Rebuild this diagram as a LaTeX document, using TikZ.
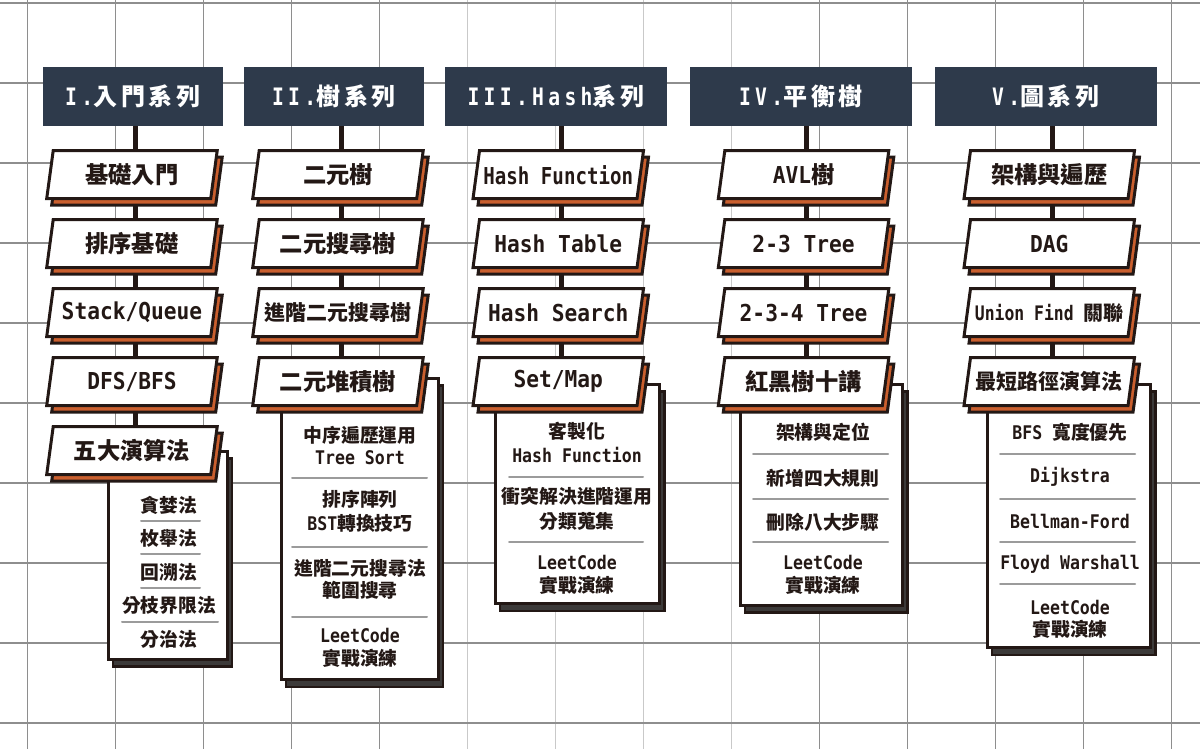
\documentclass[tikz,border=0pt]{standalone}
\usepackage{fontspec}
\setmainfont{DejaVu Sans}
\newfontfamily\cjkf{Noto Sans CJK TC}
\newfontfamily\latc{DejaVu Sans Mono}[FakeStretch=0.91]
\newfontfamily\latn{DejaVu Sans Mono}[FakeStretch=0.82]
\newfontfamily\latp{DejaVu Sans Mono}[FakeStretch=0.88]
\newfontfamily\hcjk{Noto Sans CJK TC}[LetterSpace=16]
\newfontfamily\hlat{DejaVu Sans Mono}[FakeStretch=0.82,LetterSpace=18]
\newcommand\C[1]{{\cjkf #1}}
\definecolor{ink}{HTML}{231815}
\definecolor{navy}{HTML}{2E3A4B}
\definecolor{corange}{HTML}{CA5F2E}
\definecolor{pgray}{HTML}{3C3A39}
\definecolor{gridd}{HTML}{8E8E8E}
\definecolor{gridl}{HTML}{C9C9C9}
\definecolor{sepgray}{HTML}{9B9B9B}
\tikzset{
 conn/.style={draw=ink, line width=5pt},
 cardshadow/.style={fill=corange, draw=ink, line width=3pt},
 cardbody/.style={fill=white, draw=ink, line width=3pt},
 cardtext/.style={text=ink, inner sep=0pt},
 header/.style={fill=navy, text=white, inner sep=0pt, minimum height=59pt, font=\fontsize{24}{24}\selectfont\bfseries},
 pshadow/.style={fill=pgray, draw=ink, line width=2.5pt},
 pbody/.style={fill=white, draw=ink, line width=3pt},
 ptext/.style={text=ink, inner sep=0pt, font=\fontsize{18.8}{20}\selectfont\latp\bfseries},
 sepline/.style={draw=sepgray, line width=2pt, line cap=round},
}
% #1 name, #2 bottom-left x, #3 top y, #4 font size, #5 text
\newcommand\card[5]{%
  \path[cardshadow] ({#2+11.5},{#3+6.5}) -- ++(164,0) -- ++(-6.5,48) -- ++(-164,0) -- cycle;
  \path[cardbody] ({#2+6.5},{#3}) -- ++(164,0) -- ++(-6.5,48) -- ++(-164,0) -- cycle;
  \node[cardtext, font={\fontsize{#4}{#4}\selectfont\latc\bfseries}] (#1) at ({#2+85.25},{#3+24}) {#5};
  \coordinate (#1t) at ({#2+88.5},{#3});
}
% #1 x1 #2 y1 #3 x2 #4 y2
\newcommand\panel[4]{%
  \path[pshadow] ({#1+5},{#2+7.5}) rectangle ({#3+5},{#4+7.5});
  \path[pbody] (#1,#2) rectangle (#3,#4);
}
\begin{document}
\begin{tikzpicture}[x=1pt,y=-1pt]
\useasboundingbox (0,0) rectangle (1200,749);
\fill[white] (0,0) rectangle (1200,749);
% grid
\foreach \xx/\cc in {27.5/gridd,115.5/gridd,203.5/gridd,291.5/gridd,379.5/gridd,467.5/gridl,555.5/gridl,643.5/gridl,731.5/gridl,819.5/gridd,907.5/gridd,995.5/gridd,1083.5/gridd,1171.5/gridd}
  \draw[\cc, line width=1.2pt] (\xx,0) -- (\xx,749);
\foreach \yy in {3,83,...,723}
  \draw[gridd, line width=1.2pt] (0,\yy) -- (1200,\yy);
% headers
\node[header, minimum width=180pt] (h1) at (133,96.5) {{\hlat I.}{\hcjk 入門系列}};
\node[header, minimum width=180pt] (h2) at (334,96.5) {{\hlat II.}{\hcjk 樹系列}};
\node[header, minimum width=222pt] (h3) at (556,96.5) {{\hlat III.Hash}{\hcjk 系列}};
\node[header, minimum width=222pt] (h4) at (801,96.5) {{\hlat IV.}{\hcjk 平衡樹}};
\node[header, minimum width=222pt] (h5) at (1046,96.5) {{\hlat V.}{\hcjk 圖系列}};
% connectors (behind cards)
\coordinate (k1) at (135.2,426.7);
\coordinate (k2) at (341.2,357.7);
\coordinate (k3) at (561.5,357.7);
\coordinate (k4) at (806.8,357.7);
\coordinate (k5) at (1052.5,357.7);
\foreach \i in {1,...,5} \draw[conn] (h\i.south -| k\i) -- (k\i);
% column 1
\panel{108}{451}{227}{659}
\card{c11}{46.7}{150.7}{23.3}{\C{基礎入門}}
\card{c12}{46.7}{219.7}{23.3}{\C{排序基礎}}
\card{c13}{46.7}{288.7}{23.3}{Stack/Queue}
\card{c14}{46.7}{357.7}{23.3}{DFS/BFS}
\card{c15}{46.7}{426.7}{23.3}{\C{五大演算法}}
\node[ptext] (p11) at (169,505) {\C{貪婪法}};
\node[ptext] (p12) at (169,538.5) {\C{枚舉法}};
\node[ptext] (p13) at (169,572) {\C{回溯法}};
\node[ptext] (p14) at (169,605.7) {\C{分枝界限法}};
\node[ptext] (p15) at (169,639) {\C{分治法}};
\draw[sepline] (141,520.5) -- (200,520.5);
\draw[sepline] (141,554) -- (200,554);
\draw[sepline] (141,588) -- (200,588);
\draw[sepline] (122,622) -- (218,622);
% column 2
\panel{281}{378}{438}{679.5}
\card{c21}{252.7}{150.7}{23.3}{\C{二元樹}}
\card{c22}{252.7}{219.7}{23.3}{\C{二元搜尋樹}}
\card{c23}{252.7}{288.7}{21}{\C{進階二元搜尋樹}}
\card{c24}{252.7}{357.7}{23.3}{\C{二元堆積樹}}
\node[ptext] (p21a) at (360,435) {\C{中序遍歷運用}};
\node[ptext] (p21b) at (360,457.3) {Tree Sort};
\node[ptext] (p22a) at (360,499) {\C{排序陣列}};
\node[ptext] (p22b) at (360,523.3) {BST\C{轉換技巧}};
\node[ptext] (p23a) at (360,568.3) {\C{進階二元搜尋法}};
\node[ptext] (p23b) at (360,590.7) {\C{範圍搜尋}};
\node[ptext] (p24a) at (360,635) {LeetCode};
\node[ptext] (p24b) at (360,658.3) {\C{實戰演練}};
\draw[sepline] (292,477.7) -- (427,477.7);
\draw[sepline] (292,547.3) -- (427,547.3);
\draw[sepline] (292,616.7) -- (427,616.7);
% column 3
\panel{495}{384}{659.5}{603.5}
\card{c31}{473}{150.7}{23.3}{\latn Hash Function}
\card{c32}{473}{219.7}{23.3}{Hash Table}
\card{c33}{473}{288.7}{23.3}{Hash Search}
\card{c34}{473}{357.7}{23.3}{Set/Map}
\node[ptext] (p31a) at (577,431.7) {\C{客製化}};
\node[ptext] (p31b) at (577,455) {Hash Function};
\node[ptext] (p32a) at (577,496.7) {\C{衝突解決進階運用}};
\node[ptext] (p32b) at (577,521.7) {\C{分類蒐集}};
\node[ptext] (p33a) at (577,562) {LeetCode};
\node[ptext] (p33b) at (577,585) {\C{實戰演練}};
\draw[sepline] (509,477.3) -- (643,477.3);
\draw[sepline] (509,542.3) -- (643,542.3);
% column 4
\panel{740}{384}{902.5}{605}
\card{c41}{718.3}{150.7}{23.3}{AVL\C{樹}}
\card{c42}{718.3}{219.7}{23.3}{2-3 Tree}
\card{c43}{718.3}{288.7}{23.3}{2-3-4 Tree}
\card{c44}{718.3}{357.7}{23.3}{\C{紅黑樹十講}}
\node[ptext] (p41) at (823,431.7) {\C{架構與定位}};
\node[ptext] (p42) at (823,478.3) {\C{新增四大規則}};
\node[ptext] (p43) at (823,522.7) {\C{刪除八大步驟}};
\node[ptext] (p44a) at (823,562.3) {LeetCode};
\node[ptext] (p44b) at (823,585.7) {\C{實戰演練}};
\draw[sepline] (753,454.3) -- (888,454.3);
\draw[sepline] (753,499.3) -- (888,499.3);
\draw[sepline] (753,541.7) -- (888,541.7);
% column 5
\panel{987}{384}{1150.5}{647.5}
\card{c51}{964}{150.7}{23.3}{\C{架構與遍歷}}
\card{c52}{964}{219.7}{23.3}{DAG}
\card{c53}{964}{288.7}{20}{\latn Union Find \C{關聯}}
\card{c54}{964}{357.7}{21}{\C{最短路徑演算法}}
\node[ptext] (p51) at (1070,432.7) {BFS \C{寬度優先}};
\node[ptext] (p52) at (1070,477.3) {Dijkstra};
\node[ptext] (p53) at (1070,521) {Bellman-Ford};
\node[ptext] (p54) at (1070,564) {Floyd Warshall};
\node[ptext] (p55a) at (1070,607.3) {LeetCode};
\node[ptext] (p55b) at (1070,629.3) {\C{實戰演練}};
\draw[sepline] (1000,454) -- (1135,454);
\draw[sepline] (1000,499) -- (1135,499);
\draw[sepline] (1000,541.7) -- (1135,541.7);
\draw[sepline] (1000,584.3) -- (1135,584.3);
\end{tikzpicture}
\end{document}
